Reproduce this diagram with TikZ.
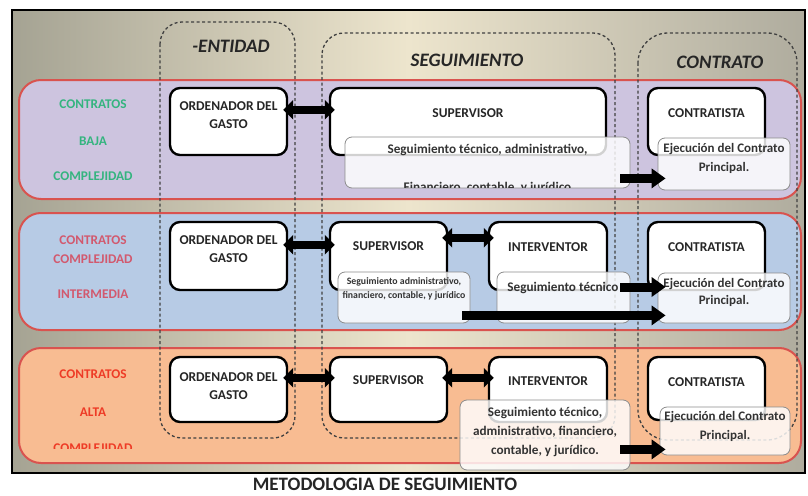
\documentclass[tikz,border=0pt]{standalone}
\usepackage{fontspec}
\setmainfont{Carlito}
\usetikzlibrary{arrows.meta,calc}
\definecolor{frameL}{HTML}{A5A393}
\definecolor{frameM}{HTML}{EDE5CD}
\definecolor{frameR}{HTML}{AFAC9E}
\definecolor{bandA}{HTML}{CDC4DF}
\definecolor{bandB}{HTML}{B7CBE5}
\definecolor{bandC}{HTML}{F8BC92}
\definecolor{bandline}{HTML}{D9534F}
\definecolor{lblA}{HTML}{34B47F}
\definecolor{lblB}{HTML}{D2596E}
\definecolor{lblC}{HTML}{EE3B26}
\begin{document}
\begin{tikzpicture}[x=1pt,y=-1pt,
  mainbox/.style={draw=black, line width=2.4pt, fill=white, rounded corners=10pt, inner sep=0pt},
  subbox/.style={draw=black!45, line width=0.8pt, fill=white, fill opacity=0.82, text opacity=1, rounded corners=7pt, inner sep=0pt},
  btxt/.style={font=\fontsize{13.5}{18}\selectfont\bfseries, align=center, text=black!85, inner sep=0pt},
  stxt/.style={font=\fontsize{13.2}{19}\selectfont\bfseries, align=center, text=black!80, inner sep=0pt},
  etxt/.style={font=\fontsize{13}{19}\selectfont\bfseries, align=center, text=black!80, inner sep=0pt},
  smalltxt/.style={font=\fontsize{9.8}{14}\selectfont\bfseries, align=center, text=black!80, inner sep=0pt},
  hdr/.style={font=\fontsize{19}{21}\selectfont\bfseries\itshape, text=black!85, inner sep=0pt},
  lbl/.style={font=\fontsize{13.3}{15}\selectfont\bfseries, inner sep=0pt},
  band/.style={draw=bandline, line width=2pt, rounded corners=22pt},
  colbox/.style={draw=black!75, dash pattern=on 3pt off 2.5pt, line width=1.3pt, rounded corners=22pt},
  dbl/.style={line width=8pt, {Triangle[length=10pt,width=19pt]}-{Triangle[length=10pt,width=19pt]}},
  rar/.style={line width=9pt, -{Triangle[length=14pt,width=19pt]}}
]
\useasboundingbox[fill=white] (0,0) rectangle (808,495);
% frame
\path[left color=frameL, right color=frameR, middle color=frameM] (12,10) rectangle (805,473);
\draw[line width=2.5pt] (12,10) rectangle (805,473);
% bands
\draw[band, fill=bandA] (19,80) rectangle (801,199);
\draw[band, fill=bandB] (19,213) rectangle (801,330);
\draw[band, fill=bandC] (19,348) rectangle (801,463);
% dashed columns
\draw[colbox] (160,22) rectangle (295,438);
\draw[colbox] (322,33) rectangle (615,438);
\draw[colbox, rounded corners=30pt] (638,33) rectangle (797,440);
% headers
\node[hdr] (hEnt) at (231,46) {-ENTIDAD};
\node[hdr] (hSeg) at (467,60) {SEGUIMIENTO};
\node[hdr] (hCon) at (720,62) {CONTRATO};
% left labels
\node[lbl, text=lblA] (la1) at (93,104) {CONTRATOS};
\node[lbl, text=lblA] (la2) at (93,141) {BAJA};
\node[lbl, text=lblA] (la3) at (93,176) {COMPLEJIDAD};
\node[lbl, text=lblB] (lb1) at (93,240) {CONTRATOS};
\node[lbl, text=lblB] (lb2) at (93,259) {COMPLEJIDAD};
\node[lbl, text=lblB] (lb3) at (93,294) {INTERMEDIA};
\node[lbl, text=lblC] (lc1) at (93,374) {CONTRATOS};
\node[lbl, text=lblC] (lc2) at (93,412) {ALTA};
\begin{scope}
\clip (30,420) rectangle (160,448);
\node[lbl, text=lblC, anchor=base] (lc3) at (93,452) {COMPLEJIDAD};
\end{scope}
% ---------- band 1
\node[mainbox, minimum width=117, minimum height=67] (o1) at (228.5,121.5) {};
\node[btxt] (o1t) at ($(o1)+(0,-6)$) {ORDENADOR DEL\\GASTO};
\node[mainbox, minimum width=276, minimum height=67] (s1) at (468,121.5) {};
\node[btxt] (s1t) at (468,113) {SUPERVISOR};
\node[mainbox, minimum width=117, minimum height=67] (c1) at (706.5,121.5) {};
\node[btxt] (c1t) at (706.5,113) {CONTRATISTA};
\draw[dbl] ($(o1.north east)+(-5,23)$) -- ($(s1.north west)+(6,23)$);
\node[subbox, minimum width=285, minimum height=51] (ss1) at (487.5,162.5) {};
\node[stxt] (ss1a) at (487.5,150) {Seguimiento técnico, administrativo,};
\begin{scope}
\clip[rounded corners=7pt] (345,137) rectangle (630,187);
\node[stxt, anchor=base] (ss1b) at (487.5,191) {Financiero, contable, y jurídico};
\end{scope}
\node[subbox, minimum width=132, minimum height=52] (e1) at (724,164) {};
\node[etxt] (e1t) at (724,158) {Ejecución del Contrato\\Principal.};
\draw[rar] ($(ss1.south east)+(-10,-10)$) -- ($(e1.south west)+(8,-12)$);
% ---------- band 2
\node[mainbox, minimum width=117, minimum height=68] (o2) at (228.5,256) {};
\node[btxt] (o2t) at (228.5,249.5) {ORDENADOR DEL\\GASTO};
\node[mainbox, minimum width=117, minimum height=68] (s2) at (388.5,256) {};
\node[btxt] (s2t) at (388.5,246) {SUPERVISOR};
\node[mainbox, minimum width=118, minimum height=68] (i2) at (548,256) {};
\node[btxt] (i2t) at (548,247) {INTERVENTOR};
\node[mainbox, minimum width=117, minimum height=68] (c2) at (706.5,256) {};
\node[btxt] (c2t) at (706.5,247) {CONTRATISTA};
\draw[dbl] ($(o2.north east)+(-5,24)$) -- ($(s2.north west)+(6,24)$);
\draw[dbl] ($(s2.north east)+(-6,17)$) -- ($(i2.north west)+(6,17)$);
\node[subbox, minimum width=132, minimum height=51] (ss2) at (404,297.5) {};
\node[smalltxt] (ss2t) at (404,289) {Seguimiento administrativo,\\financiero, contable, y jurídico};
\node[subbox, minimum width=133, minimum height=51] (si2) at (563.5,297.5) {};
\node[stxt] (si2t) at (563,288) {Seguimiento técnico};
\node[subbox, minimum width=132, minimum height=50] (e2) at (724,298) {};
\node[etxt, font=\fontsize{13}{17}\selectfont\bfseries] (e2t) at (724,292) {Ejecución del Contrato\\Principal.};
\draw[rar] ($(si2.east)+(-10,-10.5)$) -- ($(e2.west)+(8,-11)$);
\draw[rar] ($(ss2.south east)+(-8,-8)$) -- ($(e2.south west)+(8,-8)$);
% ---------- band 3
\node[mainbox, minimum width=117, minimum height=65] (o3) at (228.5,389.5) {};
\node[btxt] (o3t) at (228.5,386) {ORDENADOR DEL\\GASTO};
\node[mainbox, minimum width=117, minimum height=65] (s3) at (388.5,389.5) {};
\node[btxt] (s3t) at (388.5,380) {SUPERVISOR};
\node[mainbox, minimum width=118, minimum height=65] (i3) at (548,389.5) {};
\node[btxt] (i3t) at (548,381) {INTERVENTOR};
\node[mainbox, minimum width=117, minimum height=63] (c3) at (706.5,388.5) {};
\node[btxt] (c3t) at (706.5,382) {CONTRATISTA};
\draw[dbl] ($(o3.north east)+(-5,22)$) -- ($(s3.north west)+(6,22)$);
\draw[dbl] ($(s3.north east)+(-6,22)$) -- ($(i3.north west)+(6,22)$);
\node[subbox, minimum width=170, minimum height=70] (ss3) at (545,435) {};
\node[stxt] (ss3t) at (545,432) {Seguimiento técnico,\\administrativo, financiero,\\contable, y jurídico.};
\node[subbox, minimum width=130, minimum height=48] (e3) at (725,431) {};
\node[etxt] (e3t) at (725,426) {Ejecución del Contrato\\Principal.};
\draw[rar] ($(ss3.south east)+(-10,-21)$) -- ($(e3.south west)+(6,-6)$);
% title
\node[font=\fontsize{19}{21}\selectfont\bfseries, text=black!85, inner sep=0pt] (ttl) at (385,484.5) {METODOLOGIA DE SEGUIMIENTO};
\end{tikzpicture}
\end{document}
